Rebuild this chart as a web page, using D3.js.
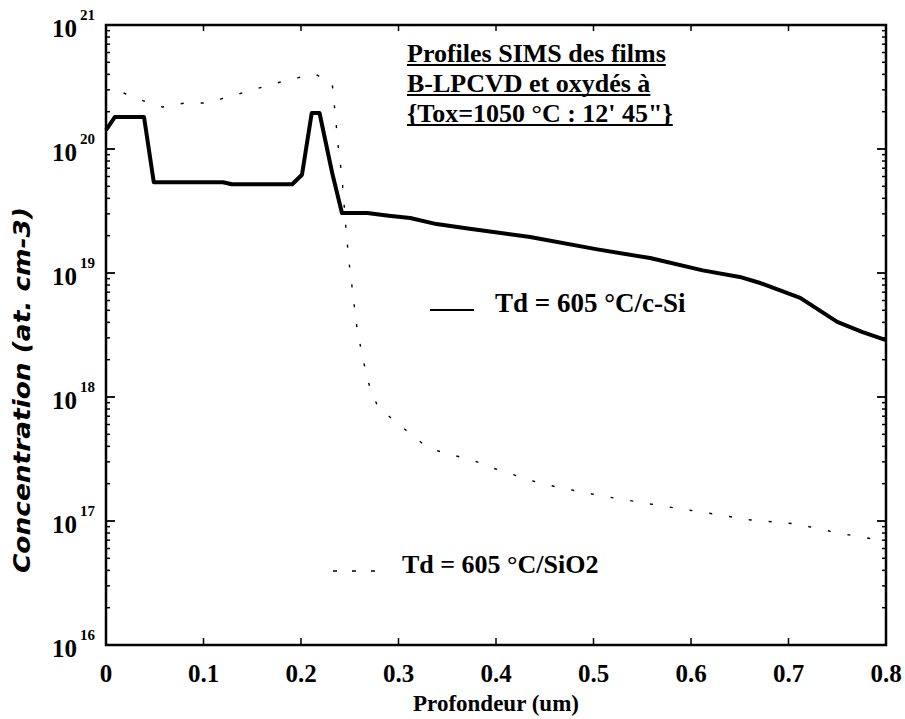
<!DOCTYPE html>
<html>
<head>
<meta charset="utf-8">
<script src="https://cdn.jsdelivr.net/npm/d3@7/dist/d3.min.js"></script>
<style>
  html, body { margin: 0; padding: 0; background: #fff; }
  svg { display: block; }
  .serif { font-family: "Liberation Serif", "Times New Roman", serif; font-weight: bold; fill: #000; }
</style>
</head>
<body>
<svg id="chart" width="905" height="719"></svg>
<script>
// ---- data ----
const depthSi = [0, 0.009, 0.039, 0.049, 0.12, 0.129, 0.191, 0.201, 0.211, 0.219, 0.232, 0.242, 0.268, 0.29, 0.312, 0.339, 0.373, 0.435, 0.504, 0.558, 0.612, 0.65, 0.671, 0.712, 0.75, 0.776, 0.8];
const concSi = [1.42e20, 1.81e20, 1.81e20, 5.4e19, 5.4e19, 5.2e19, 5.2e19, 6.2e19, 1.95e20, 1.95e20, 6.4e19, 3.05e19, 3.05e19, 2.9e19, 2.78e19, 2.48e19, 2.27e19, 1.95e19, 1.55e19, 1.32e19, 1.05e19, 9.3e18, 8.3e18, 6.3e18, 4.03e18, 3.34e18, 2.88e18];

const depthOx = [0.018, 0.044, 0.058, 0.081, 0.104, 0.171, 0.191, 0.214, 0.232, 0.235, 0.238, 0.242, 0.246, 0.249, 0.253, 0.257, 0.263, 0.271, 0.279, 0.295, 0.329, 0.35, 0.373, 0.397, 0.438, 0.462, 0.509, 0.571, 0.617, 0.661, 0.707, 0.751, 0.794];
const concOx = [2.83e20, 2.35e20, 2.18e20, 2.35e20, 2.35e20, 3.34e20, 3.67e20, 4.03e20, 3.41e20, 1.95e20, 1.08e20, 5.94e19, 2.35e19, 1.27e19, 7.03e18, 3.81e18, 2.1e18, 1.16e18, 8.3e17, 6.5e17, 3.95e17, 3.47e17, 3.16e17, 2.67e17, 2.1e17, 1.88e17, 1.59e17, 1.32e17, 1.16e17, 1.02e17, 9.5e16, 8.0e16, 7.0e16];

const xTicks = [0, 0.1, 0.2, 0.3, 0.4, 0.5, 0.6, 0.7, 0.8];
const xTickLabels = ["0", "0.1", "0.2", "0.3", "0.4", "0.5", "0.6", "0.7", "0.8"];
const yDecades = [16, 17, 18, 19, 20, 21];

const titleLines = ["Profiles SIMS des films", "B-LPCVD et oxydés à", "{Tox=1050 °C : 12' 45\"}"];
const legendLabels = ["Td = 605 °C/c-Si", "Td = 605 °C/SiO2"];
const xLabel = "Profondeur (um)";
const yLabel = "Concentration (at. cm-3)";

// ---- layout ----
const m = {left: 106, top: 25, right: 19, bottom: 74};
const W = 905 - m.left - m.right, H = 719 - m.top - m.bottom;
const svg = d3.select("#chart");
const g = svg.append("g").attr("transform", `translate(${m.left},${m.top})`);

const x = d3.scaleLinear().domain([0, 0.8]).range([0, W]);
const y = d3.scaleLog().domain([1e16, 1e21]).range([H, 0]);

// minor log ticks
const minorY = [];
for (let e = 16; e < 21; e++) for (let k = 2; k <= 9; k++) minorY.push(k * Math.pow(10, e));
const majorY = yDecades.map(e => Math.pow(10, e));

// axes (inside ticks)
const axW = 2.5;
const left = g.append("g");
left.selectAll("line.maj").data(majorY).join("line")
  .attr("x1", 0).attr("x2", 9).attr("y1", d => y(d)).attr("y2", d => y(d))
  .attr("stroke", "#000").attr("stroke-width", 1.8);
left.selectAll("line.min").data(minorY).join("line")
  .attr("x1", 0).attr("x2", 4).attr("y1", d => y(d)).attr("y2", d => y(d))
  .attr("stroke", "#000").attr("stroke-width", 1.5);
const right = g.append("g");
right.selectAll("line.maj").data(majorY).join("line")
  .attr("x1", W).attr("x2", W - 9).attr("y1", d => y(d)).attr("y2", d => y(d))
  .attr("stroke", "#000").attr("stroke-width", 1.8);
right.selectAll("line.min").data(minorY).join("line")
  .attr("x1", W).attr("x2", W - 4).attr("y1", d => y(d)).attr("y2", d => y(d))
  .attr("stroke", "#000").attr("stroke-width", 1.5);
// x ticks bottom and top
g.append("g").selectAll("line").data(xTicks).join("line")
  .attr("x1", d => x(d)).attr("x2", d => x(d)).attr("y1", H).attr("y2", H - 7)
  .attr("stroke", "#000").attr("stroke-width", 1.5);
g.append("g").selectAll("line").data(xTicks).join("line")
  .attr("x1", d => x(d)).attr("x2", d => x(d)).attr("y1", 0).attr("y2", 6)
  .attr("stroke", "#000").attr("stroke-width", 1.5);

// frame
g.append("rect").attr("x", 0).attr("y", 0).attr("width", W).attr("height", H)
  .attr("fill", "none").attr("stroke", "#000").attr("stroke-width", axW);

// x tick labels
g.append("g").selectAll("text").data(xTicks).join("text")
  .attr("class", "serif").attr("x", d => x(d)).attr("y", H + 37)
  .attr("text-anchor", "middle").attr("font-size", 25)
  .text((d, i) => xTickLabels[i]);

// y tick labels 10^n
const yl = g.append("g");
yDecades.forEach(e => {
  const yy = y(Math.pow(10, e));
  yl.append("text").attr("class", "serif").attr("x", -29).attr("y", yy + 12)
    .attr("text-anchor", "end").attr("font-size", 25).text("10");
  yl.append("text").attr("class", "serif").attr("x", -26).attr("y", yy - 5)
    .attr("text-anchor", "start").attr("font-size", 15).text(String(e));
});

// axis titles
svg.append("text").attr("class", "serif").attr("x", m.left + W / 2).attr("y", 711)
  .attr("text-anchor", "middle").attr("font-size", 23).text(xLabel);
svg.append("text")
  .attr("transform", `translate(30,390) rotate(-90)`)
  .attr("text-anchor", "middle")
  .attr("font-family", "'DejaVu Sans Condensed', 'DejaVu Sans', sans-serif")
  .attr("font-stretch", "condensed")
  .attr("font-weight", "bold").attr("font-style", "italic")
  .attr("font-size", 23).attr("fill", "#000")
  .attr("textLength", 366).attr("lengthAdjust", "spacingAndGlyphs")
  .text(yLabel);

// series
const lineGen = d3.line().x(d => x(d[0])).y(d => y(d[1]));
const si = depthSi.map((d, i) => [d, concSi[i]]);
const ox = depthOx.map((d, i) => [d, concOx[i]]);

g.append("path").datum(ox).attr("d", lineGen).attr("fill", "none")
  .attr("stroke", "#000").attr("stroke-width", 1.4).attr("stroke-dasharray", "3,17");
g.append("path").datum(si).attr("d", lineGen).attr("fill", "none")
  .attr("stroke", "#000").attr("stroke-width", 4).attr("stroke-linejoin", "round");

// title block
const tx = 407 - m.left;
const tBase = [62, 92, 122];
titleLines.forEach((t, i) => {
  const txt = g.append("text").attr("class", "serif").attr("x", tx).attr("y", tBase[i] - m.top)
    .attr("font-size", 26).text(t);
  const bb = txt.node().getBBox();
  g.append("line").attr("x1", tx).attr("x2", tx + bb.width)
    .attr("y1", tBase[i] - m.top + 3).attr("y2", tBase[i] - m.top + 3)
    .attr("stroke", "#000").attr("stroke-width", 2.2);
});

// legend
g.append("line").attr("x1", 430 - m.left).attr("x2", 474 - m.left)
  .attr("y1", 310 - m.top).attr("y2", 310 - m.top).attr("stroke", "#000").attr("stroke-width", 2);
g.append("text").attr("class", "serif").attr("x", 495 - m.left).attr("y", 312 - m.top)
  .attr("font-size", 27).text(legendLabels[0]);
g.append("line").attr("x1", 333 - m.left).attr("x2", 380 - m.left)
  .attr("y1", 571 - m.top).attr("y2", 571 - m.top).attr("stroke", "#000").attr("stroke-width", 1.4)
  .attr("stroke-dasharray", "4,15");
g.append("text").attr("class", "serif").attr("x", 402 - m.left).attr("y", 573 - m.top)
  .attr("font-size", 26).text(legendLabels[1]);
</script>
</body>
</html>
